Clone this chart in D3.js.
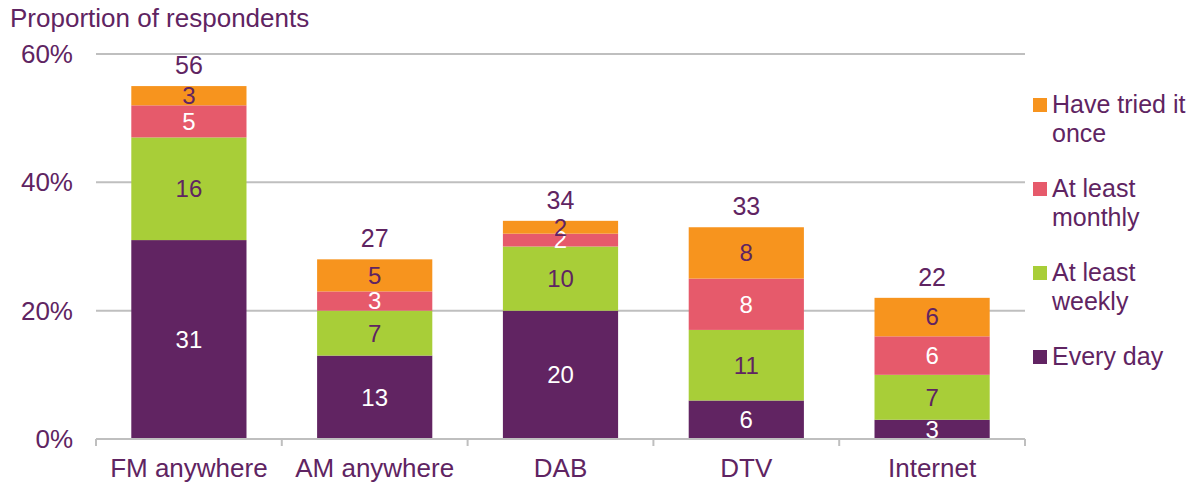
<!DOCTYPE html>
<html lang="en">
<head>
<meta charset="UTF-8">
<title>Proportion of respondents</title>
<script src="https://d3js.org/d3.v7.min.js"></script>
<style>
    body { margin: 0; background: #fff; font-family: 'Liberation Sans', Arial, sans-serif; }
    svg { display: block; }
    text { fill: #5f2462; }
</style>
</head>
<body>
<script>
    const categories = ["FM anywhere", "AM anywhere", "DAB", "DTV", "Internet"];
    const series = ["Every day", "At least weekly", "At least monthly", "Have tried it once"];
    const everyDay = [31, 13, 20, 6, 3];
    const weekly = [16, 7, 10, 11, 7];
    const monthly = [5, 3, 2, 8, 6];
    const triedOnce = [3, 5, 2, 8, 6];
    const totals = [56, 27, 34, 33, 22];
    const yTicks = [0, 20, 40, 60];

    const colours = ["#612462", "#a8ce38", "#e65a6b", "#f7941e"];
    const labelColours = ["#ffffff", "#5f2462", "#ffffff", "#5f2462"];
    const legendLines = {
        "Have tried it once": ["Have tried it", "once"],
        "At least monthly": ["At least", "monthly"],
        "At least weekly": ["At least", "weekly"],
        "Every day": ["Every day"]
    };

    const width = 1195, height = 486;
    const fontSize = 26;

    const rows = categories.map((c, i) => ({
        category: c,
        "Every day": everyDay[i],
        "At least weekly": weekly[i],
        "At least monthly": monthly[i],
        "Have tried it once": triedOnce[i]
    }));
    const stacked = d3.stack().keys(series)(rows);

    const svg = d3.select("body").append("svg")
        .attr("width", width)
        .attr("height", height);

    const x = d3.scaleBand().domain(categories).range([96, 1025]).paddingInner(0.38).paddingOuter(0.19);
    const y = d3.scaleLinear().domain([0, 60]).range([439, 54]);

    // gridlines
    svg.append("g").selectAll("line")
        .data(yTicks.filter(d => d > 0))
        .join("line")
        .attr("x1", 96).attr("x2", 1025)
        .attr("y1", d => y(d)).attr("y2", d => y(d))
        .attr("stroke", "#bfbfbf").attr("stroke-width", 2);

    // y labels
    svg.append("g").selectAll("text")
        .data(yTicks)
        .join("text")
        .attr("x", 73)
        .attr("y", d => y(d))
        .attr("dy", "0.35em")
        .attr("text-anchor", "end")
        .attr("font-size", fontSize)
        .text(d => d + "%");

    svg.append("text")
        .attr("x", 10).attr("y", 27)
        .attr("font-size", fontSize)
        .text("Proportion of respondents");

    // bars
    const layers = svg.append("g").selectAll("g")
        .data(stacked)
        .join("g")
        .attr("fill", (d, i) => colours[i]);

    layers.selectAll("rect")
        .data(d => d)
        .join("rect")
        .attr("x", d => x(d.data.category))
        .attr("width", x.bandwidth())
        .attr("y", d => y(d[1]))
        .attr("height", d => y(d[0]) - y(d[1]));

    // segment labels
    stacked.forEach((layer, li) => {
        svg.append("g").selectAll("text")
            .data(layer)
            .join("text")
            .attr("x", d => x(d.data.category) + x.bandwidth() / 2)
            .attr("y", d => y((d[0] + d[1]) / 2))
            .attr("dy", "0.35em")
            .attr("text-anchor", "middle")
            .attr("font-size", 24)
            .style("fill", labelColours[li])
            .text(d => d[1] - d[0]);
    });

    // totals
    svg.append("g").selectAll("text")
        .data(categories)
        .join("text")
        .attr("x", d => x(d) + x.bandwidth() / 2)
        .attr("y", (d, i) => y(d3.sum(stacked, s => s[i][1] - s[i][0])) - 12)
        .attr("text-anchor", "middle")
        .attr("font-size", 25)
        .text((d, i) => totals[i]);

    // x axis
    const axisG = svg.append("g");
    axisG.append("line")
        .attr("x1", 96).attr("x2", 1025)
        .attr("y1", y(0)).attr("y2", y(0))
        .attr("stroke", "#bfbfbf").attr("stroke-width", 2);
    axisG.selectAll(".tick")
        .data(d3.range(categories.length + 1))
        .join("line")
        .attr("x1", i => 96 + i * x.step())
        .attr("x2", i => 96 + i * x.step())
        .attr("y1", y(0)).attr("y2", y(0) + 7)
        .attr("stroke", "#bfbfbf").attr("stroke-width", 2);
    axisG.selectAll("text")
        .data(categories)
        .join("text")
        .attr("x", d => x(d) + x.bandwidth() / 2)
        .attr("y", 477)
        .attr("text-anchor", "middle")
        .attr("font-size", fontSize)
        .text(d => d);

    // legend
    const legendOrder = series.slice().reverse();
    const legend = svg.append("g").selectAll("g")
        .data(legendOrder)
        .join("g")
        .attr("transform", (d, i) => `translate(1033, ${98 + i * 84})`);
    legend.append("rect")
        .attr("width", 14).attr("height", 14)
        .attr("fill", d => colours[series.indexOf(d)]);
    legend.append("text")
        .attr("x", 19)
        .attr("y", 15)
        .attr("font-size", 25)
        .selectAll("tspan")
        .data(d => legendLines[d])
        .join("tspan")
        .attr("x", 19)
        .attr("dy", (d, i) => i === 0 ? 0 : 29)
        .text(d => d);
</script>
</body>
</html>
